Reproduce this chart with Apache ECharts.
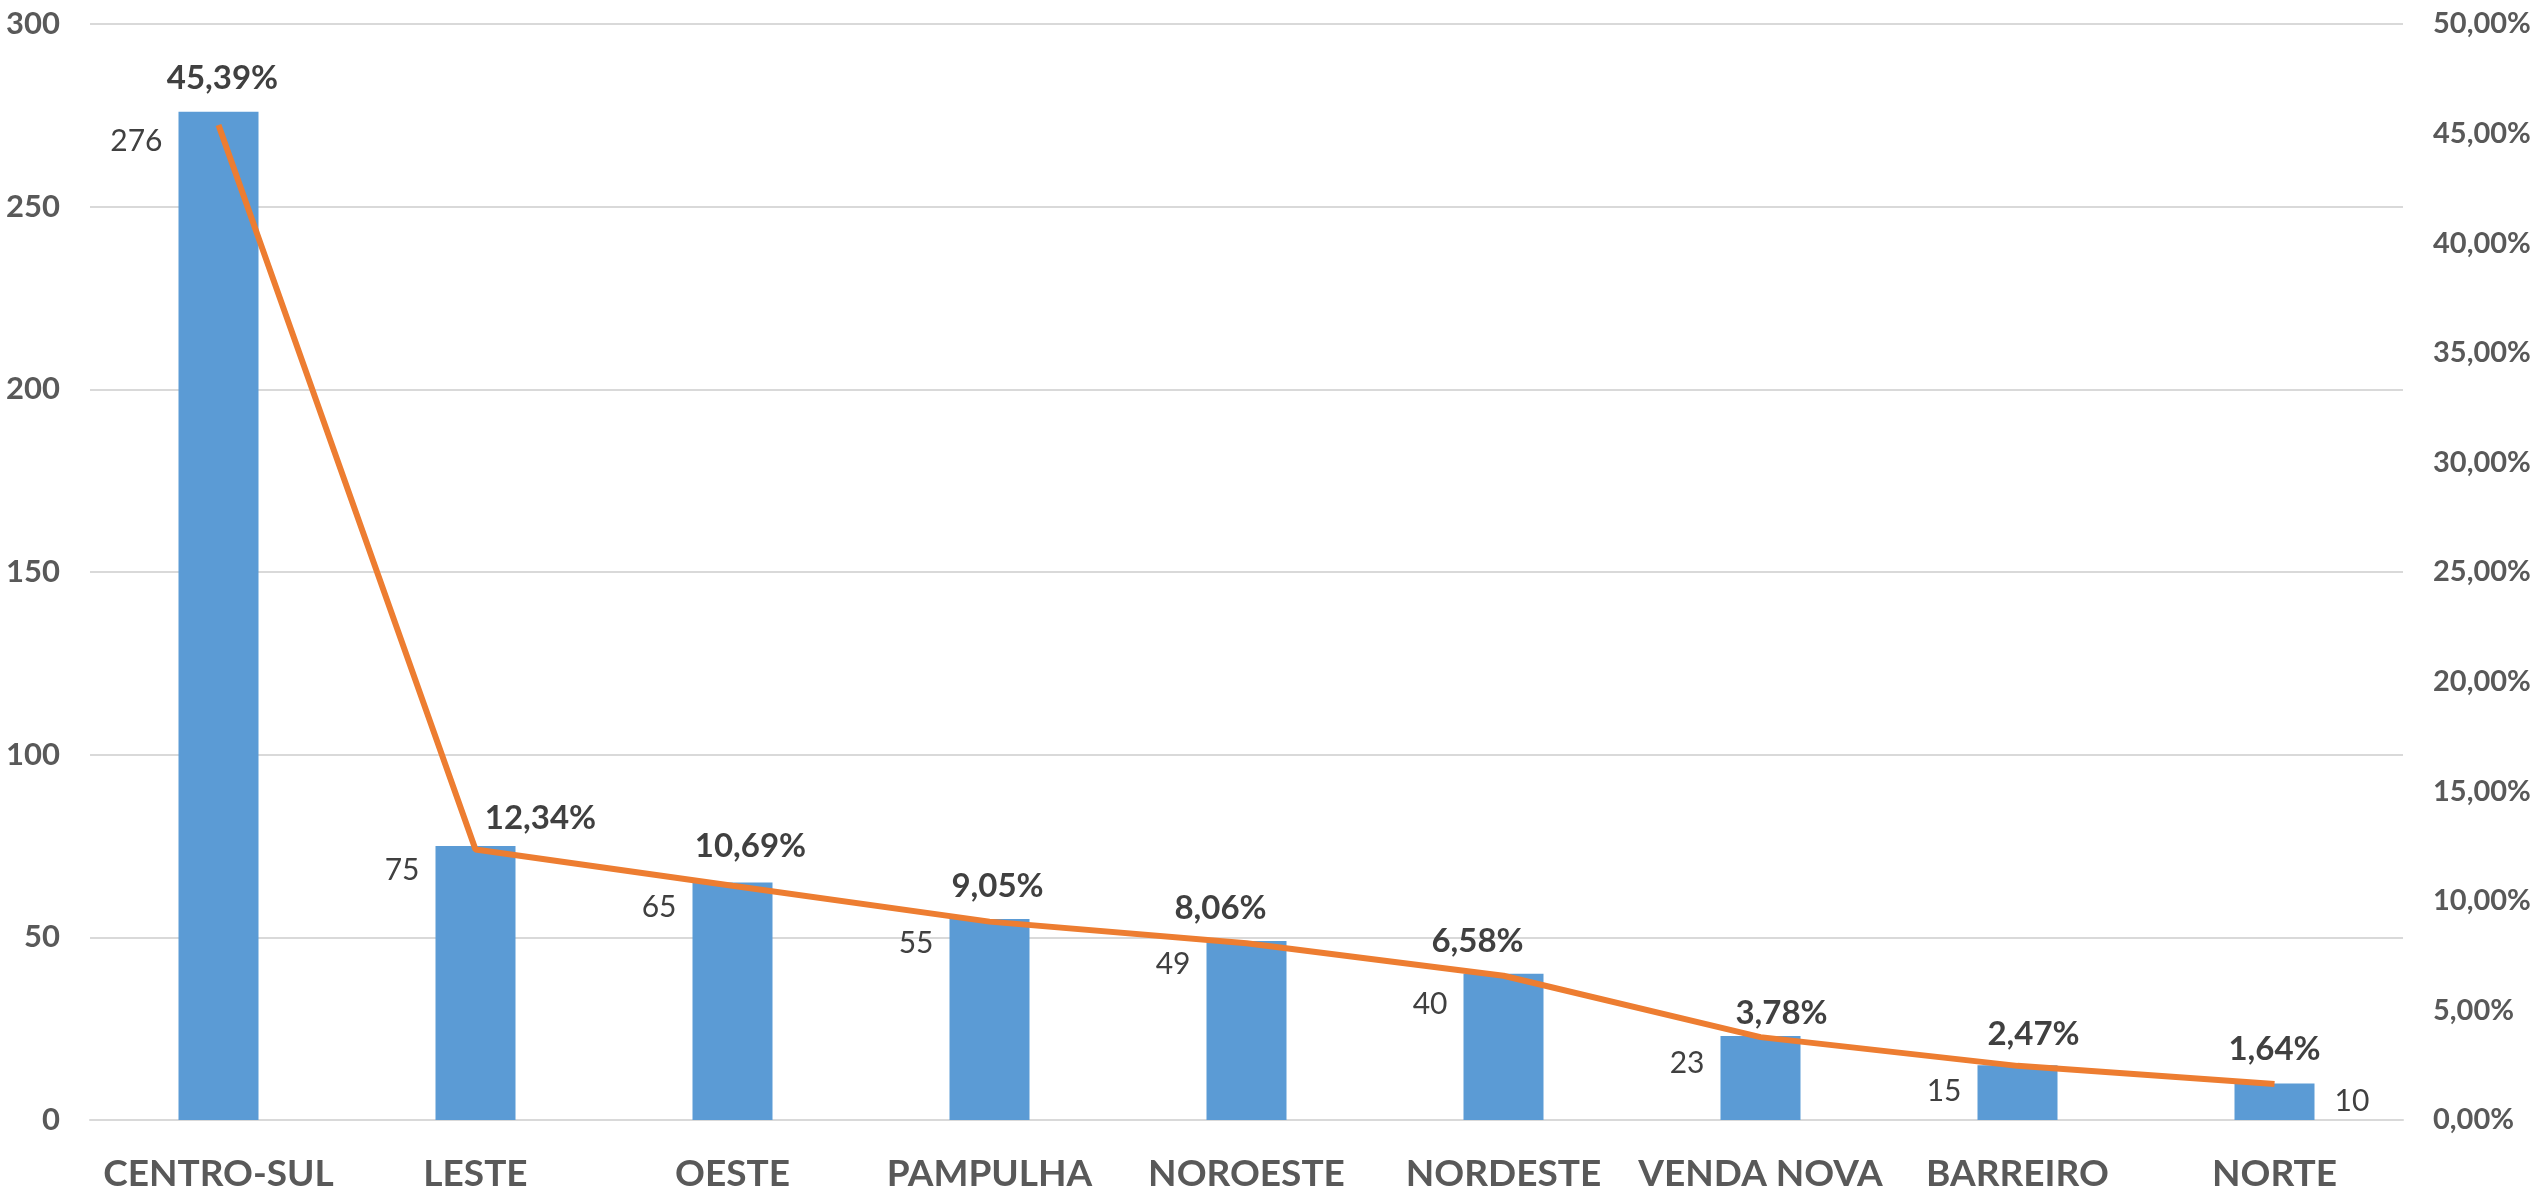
<!DOCTYPE html>
<html>
<head>
<meta charset="utf-8">
<script src="https://cdn.jsdelivr.net/npm/echarts@6/dist/echarts.min.js"></script>
<style>
html,body{margin:0;padding:0;background:#fff;}
#chart{width:2542px;height:1195px;}
</style>
</head>
<body>
<div id="chart"></div>
<script>
const categories = ['CENTRO-SUL','LESTE','OESTE','PAMPULHA','NOROESTE','NORDESTE','VENDA NOVA','BARREIRO','NORTE'];
const counts = [276, 75, 65, 55, 49, 40, 23, 15, 10];
const percents = [45.39, 12.34, 10.69, 9.05, 8.06, 6.58, 3.78, 2.47, 1.64];
const leftTicks = {min: 0, max: 300, interval: 50};
const rightTicks = {min: 0, max: 50, interval: 5};

// label placement tweaks (layout only)
const pctLabelOffsets = [[4,-30],[65,-14],[18,-22],[8,-18],[-26,-18],[-26,-17],[21,-7],[16,-14],[0,-18]];
const barLabelY = [30,24,25,24,23,30,27,26,0];

const FONT = 'Lato';
const fmtPct = v => v.toFixed(2).replace('.', ',') + '%';

const chart = echarts.init(document.getElementById('chart'), null, {renderer: 'canvas'});

const barData = counts.map((v, i) => {
  const item = {value: v};
  if (i === counts.length - 1) {
    item.label = {position: 'right', distance: 20, align: 'left', verticalAlign: 'middle'};
  } else {
    item.label = {position: [-16, barLabelY[i]], align: 'right', verticalAlign: 'middle'};
  }
  return item;
});

const lineData = percents.map((v, i) => ({
  value: v,
  label: {offset: pctLabelOffsets[i]}
}));

chart.setOption({
  animation: false,
  backgroundColor: '#ffffff',
  grid: {left: 90, right: 139, top: 24, bottom: 75, containLabel: false},
  xAxis: {
    type: 'category',
    data: categories,
    axisTick: {show: false},
    axisLine: {show: true, lineStyle: {color: '#d9d9d9', width: 2}},
    axisLabel: {
      color: '#595959', fontFamily: FONT, fontWeight: 'bold', fontSize: 37,
      margin: 36, interval: 0
    }
  },
  yAxis: [
    {
      type: 'value', min: leftTicks.min, max: leftTicks.max, interval: leftTicks.interval,
      axisLine: {show: false}, axisTick: {show: false},
      splitLine: {show: true, lineStyle: {color: '#d9d9d9', width: 2}},
      axisLabel: {color: '#595959', fontFamily: FONT, fontWeight: 'bold', fontSize: 31, margin: 30}
    },
    {
      type: 'value', min: rightTicks.min, max: rightTicks.max, interval: rightTicks.interval,
      axisLine: {show: false}, axisTick: {show: false},
      splitLine: {show: false},
      axisLabel: {color: '#595959', fontFamily: FONT, fontWeight: 'bold', fontSize: 29, margin: 30,
        formatter: v => fmtPct(v)}
    }
  ],
  series: [
    {
      type: 'bar',
      data: barData,
      barWidth: 80,
      itemStyle: {color: '#5B9BD5'},
      label: {show: true, color: '#404040', fontFamily: FONT, fontSize: 30}
    },
    {
      type: 'line',
      yAxisIndex: 1,
      data: lineData,
      symbol: 'circle',
      symbolSize: 1,
      showSymbol: true,
      itemStyle: {color: 'transparent', borderWidth: 0},
      lineStyle: {color: '#ED7D31', width: 6},
      label: {
        show: true, position: 'top', distance: 0,
        color: '#404040', fontFamily: FONT, fontWeight: 'bold', fontSize: 33,
        formatter: p => fmtPct(p.value)
      }
    }
  ]
});
</script>
</body>
</html>
